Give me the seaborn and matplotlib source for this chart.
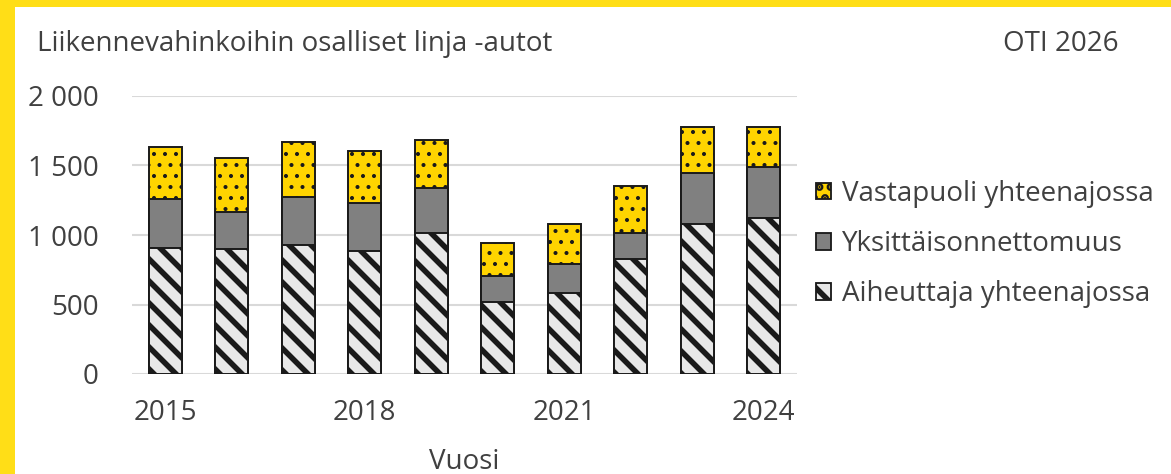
import matplotlib
matplotlib.use("Agg")
import matplotlib.pyplot as plt
import seaborn as sns
import pandas as pd
from matplotlib.patches import Rectangle, Patch

years = [2015, 2016, 2017, 2018, 2019, 2020, 2021, 2022, 2023, 2024]
aiheuttaja = [908, 896, 928, 887, 1016, 515, 582, 827, 1078, 1122]
yksittais = [352, 271, 342, 340, 324, 187, 206, 189, 366, 369]
vastapuoli = [372, 386, 400, 376, 347, 240, 293, 338, 335, 285]
series_labels = ["Aiheuttaja yhteenajossa", "Yksittäisonnettomuus", "Vastapuoli yhteenajossa"]
yticks = [0, 500, 1000, 1500, 2000]
ytick_labels = ["0", "500", "1 000", "1 500", "2 000"]
xtick_years = [2015, 2018, 2021, 2024]

DPI = 132
K = 100 / DPI  # convert sizes designed for 100 dpi into points at DPI


def pt(v):
    return v * K


sns.set_theme(style="white")
plt.rcParams['font.family'] = ['Open Sans', 'DejaVu Sans']
TXT = "#404040"
FS = pt(20)

df = pd.DataFrame({"Vuosi": [str(y) for y in years],
                   "a": aiheuttaja, "y": yksittais, "v": vastapuoli})
df["c1"] = df["a"]
df["c2"] = df["a"] + df["y"]
df["c3"] = df["c2"] + df["v"]

fig = plt.figure(figsize=(1171 / DPI, 474 / DPI), dpi=DPI)
ax = fig.add_axes([132/1171, 1 - 374/474, (797-132)/1171, (374-96)/474])

edge = "#1A1A1A"
YEL = "#FFD400"
HW_DOT, HW_STRIPE = pt(1.3), pt(4.0)
plt.rcParams['hatch.linewidth'] = HW_DOT
sns.barplot(data=df, x="Vuosi", y="c3", color=YEL, saturation=1, width=0.5,
            edgecolor=edge, linewidth=pt(1.4), hatch="..", ax=ax, zorder=3)
plt.rcParams['hatch.linewidth'] = pt(1.0)
sns.barplot(data=df, x="Vuosi", y="c2", color="#808080", saturation=1, width=0.5,
            edgecolor=edge, linewidth=pt(1.4), ax=ax, zorder=3)
plt.rcParams['hatch.linewidth'] = HW_STRIPE
sns.barplot(data=df, x="Vuosi", y="c1", color="#E8E8E8", saturation=1, width=0.5,
            edgecolor=edge, linewidth=pt(1.4), hatch="\\\\", ax=ax, zorder=3)

ax.set_ylim(0, 2000)
ax.set_xlim(-0.5, len(years) - 0.5)
ax.set_yticks(yticks)
ax.set_yticklabels(ytick_labels)
ax.yaxis.grid(True, color="#D9D9D9", linewidth=pt(1.5), zorder=0)
ax.set_axisbelow(True)
for s in ax.spines.values():
    s.set_visible(False)
xt = [years.index(y) for y in xtick_years]
ax.set_xticks(xt)
ax.set_xticklabels([str(y) for y in xtick_years])
ax.tick_params(axis="both", length=0, labelsize=FS, labelcolor=TXT)
ax.tick_params(axis="y", pad=pt(24))
ax.tick_params(axis="x", pad=pt(18))
ax.set_ylabel("")
ax.set_xlabel("Vuosi", fontsize=FS, color=TXT, labelpad=pt(15))

plt.rcParams['hatch.linewidth'] = HW_DOT
h3 = Patch(facecolor=YEL, edgecolor=edge, hatch="..", label=series_labels[2])
plt.rcParams['hatch.linewidth'] = pt(1.0)
h2 = Patch(facecolor="#808080", edgecolor=edge, label=series_labels[1])
plt.rcParams['hatch.linewidth'] = HW_STRIPE
h1 = Patch(facecolor="#E8E8E8", edgecolor=edge, hatch="\\\\", label=series_labels[0])
leg = fig.legend(handles=[h3, h2, h1], loc="center left",
                 bbox_to_anchor=(816/1171, 1 - 244/474),
                 frameon=False, fontsize=FS, handlelength=0.55, handleheight=0.55,
                 handletextpad=0.4, labelspacing=0.8, borderpad=0, borderaxespad=0)
for t in leg.get_texts():
    t.set_color(TXT)

fig.text(37/1171, 1 - 44/474, "Liikennevahinkoihin osalliset linja -autot", fontsize=FS,
         color=TXT, va="center", ha="left")
fig.text(1119/1171, 1 - 44/474, "OTI 2026", fontsize=FS, color=TXT, va="center", ha="right")

ycol = "#FFDE17"
fig.patches.append(Rectangle((0, 0), 15/1171, 1, transform=fig.transFigure,
                             facecolor=ycol, edgecolor="none", zorder=-1))
fig.patches.append(Rectangle((0, 1 - 7/474), 1, 7/474, transform=fig.transFigure,
                             facecolor=ycol, edgecolor="none", zorder=-1))

fig.savefig("out.png", dpi=DPI, facecolor="white")
